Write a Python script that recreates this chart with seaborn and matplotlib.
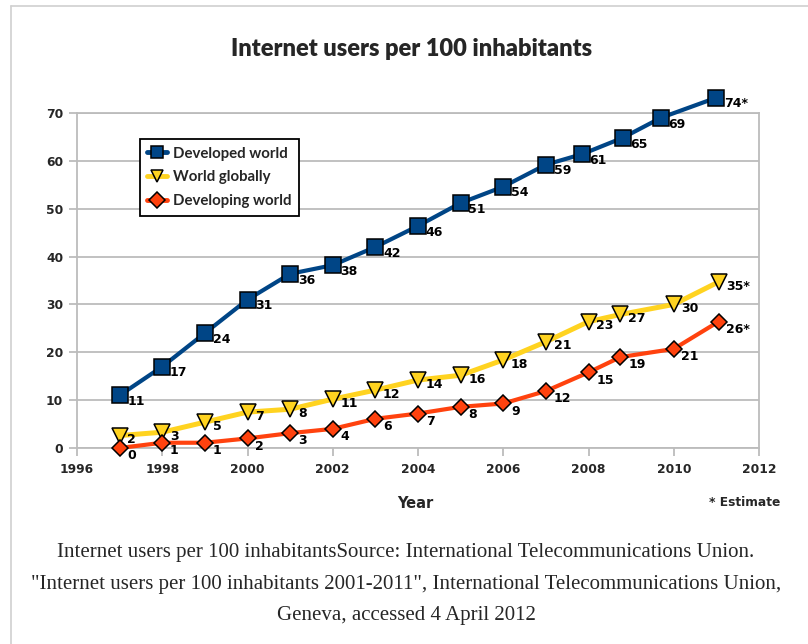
import matplotlib
matplotlib.use("Agg")
import matplotlib.pyplot as plt
from matplotlib.lines import Line2D
import pandas as pd
import seaborn as sns

# values
series_names = ["Developed world", "World globally", "Developing world"]

developed_years = [1997, 1998, 1999, 2000, 2001, 2002, 2003, 2004, 2005, 2006, 2007, 2007.85, 2008.8, 2009.7, 2011]
developed_values = [11, 17, 24, 31, 36.4, 38.2, 42, 46.4, 51.2, 54.6, 59.2, 61.4, 64.8, 69, 73.2]
developed_labels = ["11", "17", "24", "31", "36", "38", "42", "46", "51", "54", "59", "61", "65", "69", "74*"]

world_years = [1997, 1998, 1999, 2000, 2001, 2002, 2003, 2004, 2005, 2006, 2007, 2008, 2008.75, 2010, 2011.05]
world_values = [2.6, 3.3, 5.4, 7.5, 8.1, 10.2, 12.1, 14.2, 15.2, 18.4, 22.2, 26.4, 27.9, 30.0, 34.7]
world_labels = ["2", "3", "5", "7", "8", "11", "12", "14", "16", "18", "21", "23", "27", "30", "35*"]

developing_years = [1997, 1998, 1999, 2000, 2001, 2002, 2003, 2004, 2005, 2006, 2007, 2008, 2008.75, 2010, 2011.05]
developing_values = [0, 1.1, 1.1, 2.0, 3.1, 4.0, 6.1, 7.2, 8.6, 9.3, 11.9, 15.8, 19.0, 20.7, 26.4]
developing_labels = ["0", "1", "1", "2", "3", "4", "6", "7", "8", "9", "12", "15", "19", "21", "26*"]

x_ticks = [1996, 1998, 2000, 2002, 2004, 2006, 2008, 2010, 2012]
y_ticks = [0, 10, 20, 30, 40, 50, 60, 70]

title = "Internet users per 100 inhabitants"
caption = ("Internet users per 100 inhabitantsSource: International Telecommunications Union.\n"
           "\"Internet users per 100 inhabitants 2001-2011\", International Telecommunications Union,\n"
           "Geneva, accessed 4 April 2012")

colors = {"Developed world": "#004586", "World globally": "#ffd320", "Developing world": "#ff420e"}
markers = {"Developed world": "s", "World globally": "v", "Developing world": "D"}
msizes = {"Developed world": 11, "World globally": 11, "Developing world": 7.8}
lwidths = {"Developed world": 3.0, "World globally": 3.6, "Developing world": 3.0}
label_dy = {"Developed world": -4.5, "World globally": -3.0, "Developing world": -5.5}

frames = []
for name, xs, ys, labs in [
    ("Developed world", developed_years, developed_values, developed_labels),
    ("World globally", world_years, world_values, world_labels),
    ("Developing world", developing_years, developing_values, developing_labels),
]:
    frames.append(pd.DataFrame({"year": xs, "users": ys, "label": labs, "series": name}))
df = pd.concat(frames, ignore_index=True)

sns.set_style("white")
plt.rcParams["font.family"] = ["DejaVu Sans"]

fig = plt.figure(figsize=(8.08, 6.44), dpi=100)
ax = fig.add_axes([77 / 808, 1 - 448 / 644, (759 - 77) / 808, (448 - 113) / 644])

grid_c = "#bcbcbc"
for name in series_names:
    sub = df[df["series"] == name]
    sns.lineplot(data=sub, x="year", y="users", ax=ax, color=colors[name],
                 linewidth=lwidths[name], marker=markers[name], markersize=msizes[name],
                 markeredgecolor="black", markeredgewidth=1.1, label=name,
                 clip_on=False, zorder=3)
    for _, r in sub.iterrows():
        ax.annotate(r["label"], (r["year"], r["users"]), xytext=(5.5, label_dy[name]),
                    textcoords="offset points", ha="left", va="center",
                    fontsize=9, fontweight="bold", color="black", zorder=4,
                    annotation_clip=False)

ax.set_xlim(1996, 2012)
ax.set_ylim(0, 70)
ax.set_xticks(x_ticks)
ax.set_yticks(y_ticks)
ax.set_xticklabels([str(t) for t in x_ticks], fontsize=8.8, fontweight="bold")
ax.set_yticklabels([str(t) for t in y_ticks], fontsize=8.8, fontweight="bold")
ax.yaxis.grid(True, color=grid_c, linewidth=1.3)
ax.xaxis.grid(False)
for s in ax.spines.values():
    s.set_color(grid_c)
    s.set_linewidth(1.3)
ax.tick_params(axis="both", which="both", length=6, width=1.3, color=grid_c,
               direction="out", bottom=True, left=True)
ax.tick_params(axis="x", pad=5)
ax.tick_params(axis="y", pad=4)
ax.set_xlabel("")
ax.set_ylabel("")

leg = ax.legend(loc="upper left", bbox_to_anchor=(0.092, 0.922), frameon=True,
                fancybox=False, edgecolor="black", framealpha=1,
                prop={"family": "Lato", "weight": "bold", "size": 10.8},
                handlelength=1.3, handletextpad=0.4, borderpad=0.5, labelspacing=0.65,
                borderaxespad=0)
leg.get_frame().set_linewidth(1.3)
for h in leg.legend_handles:
    h.set_markersize(8)
    h.set_linewidth(3.5)

fig.text(0.509, 1 - 49 / 644, title, ha="center", va="center",
         fontsize=17, fontweight="heavy", family="Lato")
fig.text(415 / 808, 1 - 503 / 644, "Year", ha="center", va="center",
         fontsize=10.5, fontweight="bold")
fig.text(745 / 808, 1 - 503 / 644, "* Estimate", ha="center", va="center",
         fontsize=8.8, fontweight="bold")
fig.text(406 / 808, 1 - 584 / 644, caption, ha="center", va="center",
         fontsize=15, family="Liberation Serif", linespacing=1.9)

# light frame around the figure
fig.add_artist(Line2D([11 / 808, 1.0], [1 - 6 / 644, 1 - 6 / 644], color="#d0d0d0", linewidth=1.2))
fig.add_artist(Line2D([11 / 808, 11 / 808], [0.0, 1 - 6 / 644], color="#d0d0d0", linewidth=1.2))

fig.savefig("out.png", dpi=100)
